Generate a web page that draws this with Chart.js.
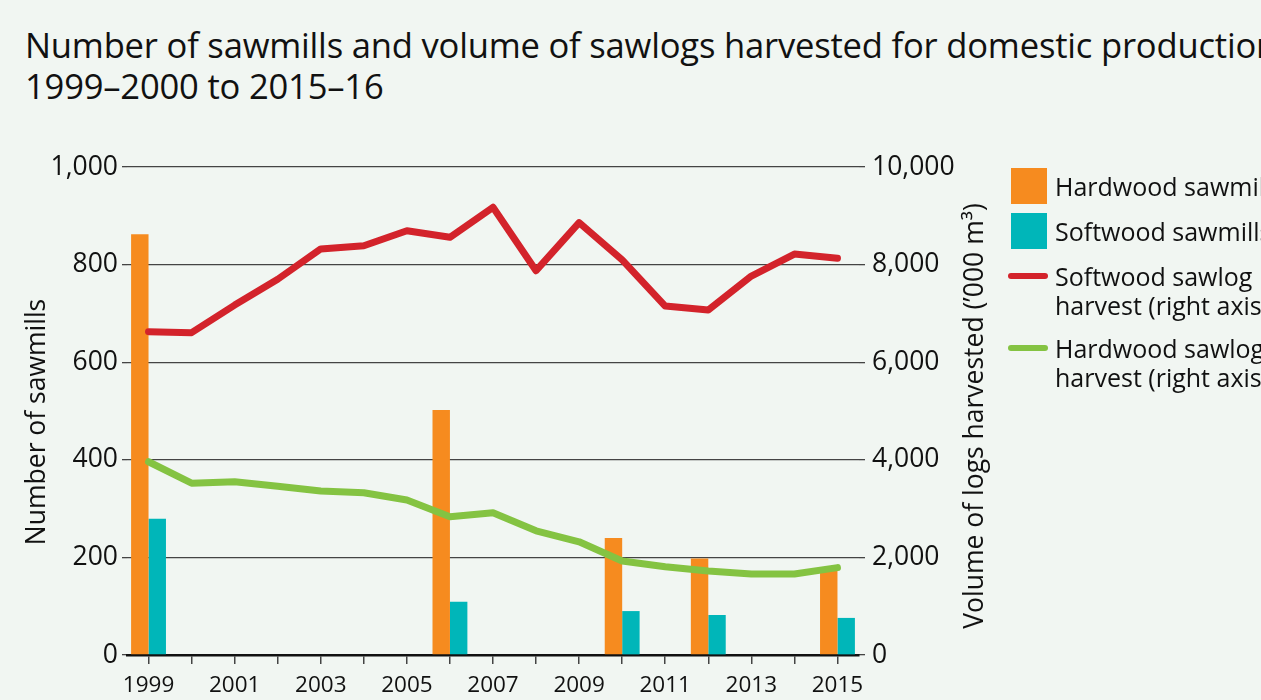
<!DOCTYPE html>
<html>
<head>
<meta charset="utf-8">
<script src="https://cdn.jsdelivr.net/npm/chart.js@4.4.1/dist/chart.umd.min.js"></script>
<style>
  body { margin: 0; background: #f1f6f2; width: 1261px; height: 700px; overflow: hidden; position: relative; font-family: "Open Sans", sans-serif; color: #111; }
  #titre { position: absolute; left: 25px; top: 24px; font-size: 34.6px; line-height: 41px; white-space: nowrap; letter-spacing: -0.2px; }
  #graf { position: absolute; left: 0; top: 0; }
  #leyenda { position: absolute; left: 1008px; top: 0; width: 260px; height: 700px; font-size: 25px; line-height: 29px; white-space: nowrap; }
  .item { position: absolute; left: 0; padding-left: 47px; }
  .caja { position: absolute; left: 3px; width: 36px; height: 36px; }
  .linea { position: absolute; left: 0; top: 11px; width: 40px; height: 6px; border-radius: 3px; }
</style>
</head>
<body>
<div id="titre">Number of sawmills and volume of sawlogs harvested for domestic production<br>1999–2000 to 2015–16</div>
<canvas id="graf" width="1261" height="700"></canvas>
<div id="leyenda"></div>
<script>
const years = ["1999","2000","2001","2002","2003","2004","2005","2006","2007","2008","2009","2010","2011","2012","2013","2014","2015"];
const hardwoodMills = [862, null, null, null, null, null, null, 502, null, null, null, 240, null, 198, null, null, 180];
const softwoodMills = [279, null, null, null, null, null, null, 109, null, null, null, 90, null, 82, null, null, 76];
const softwoodHarvest = [6625, 6605, 7170, 7700, 8320, 8385, 8695, 8560, 9175, 7875, 8860, 8095, 7150, 7070, 7765, 8215, 8130];
const hardwoodHarvest = [3960, 3520, 3550, 3460, 3360, 3325, 3175, 2835, 2915, 2545, 2320, 1925, 1810, 1720, 1660, 1660, 1790];

const naranja = "#f68b1f";
const turquesa = "#00b6b9";
const rojo = "#d3232b";
const verde = "#84c342";
const fuente = "'Open Sans', sans-serif";

// both axis titles read bottom to top, drawn by hand so they can sit where the original has them
const titulosEjes = {
  id: "titulosEjes",
  afterDraw(chart) {
    const c = chart.ctx;
    const pintar = (texto, x, y) => {
      c.save();
      c.translate(x, y);
      c.rotate(-Math.PI / 2);
      c.font = "26.5px " + fuente;
      c.fillStyle = "#111";
      c.textAlign = "center";
      c.textBaseline = "middle";
      c.fillText(texto, 0, 0);
      c.restore();
    };
    pintar("Number of sawmills", chart.scales.y.left + 37, 422);
    pintar("Volume of logs harvested (\u2019000 m\u00B3)", chart.scales.y1.right - 25, 416);
  }
};

var ctx = document.getElementById("graf").getContext("2d");
var chart = new Chart(ctx, {
  type: "bar",
  data: {
    labels: years,
    datasets: [
      {
        label: "Hardwood sawmills",
        backgroundColor: naranja,
        data: hardwoodMills,
        yAxisID: "y",
        order: 2,
      },
      {
        label: "Softwood sawmills",
        backgroundColor: turquesa,
        data: softwoodMills,
        yAxisID: "y",
        order: 2,
      },
      {
        type: "line",
        label: "Softwood sawlog harvest (right axis)",
        borderColor: rojo,
        backgroundColor: rojo,
        borderWidth: 7,
        pointRadius: 0,
        borderCapStyle: "round",
        borderJoinStyle: "round",
        data: softwoodHarvest,
        yAxisID: "y1",
        order: 1,
      },
      {
        type: "line",
        label: "Hardwood sawlog harvest (right axis)",
        borderColor: verde,
        backgroundColor: verde,
        borderWidth: 7,
        pointRadius: 0,
        borderCapStyle: "round",
        borderJoinStyle: "round",
        data: hardwoodHarvest,
        yAxisID: "y1",
        order: 0,
      },
    ],
  },
  options: {
    responsive: false,
    animation: false,
    categoryPercentage: 0.81,
    barPercentage: 1,
    layout: { padding: { top: 167, right: 261, left: 0, bottom: 0 } },
    plugins: {
      legend: { display: false },
      tooltip: { enabled: false },
    },
    scales: {
      x: {
        offset: true,
        afterFit: (s) => { s.height = 45; },
        grid: { offset: false, drawOnChartArea: false, tickLength: 9, color: "#444", lineWidth: 1.5 },
        border: { display: true, color: "#111", width: 2.5 },
        ticks: {
          autoSkip: false,
          maxRotation: 0,
          padding: 8,
          color: "#111",
          font: { family: fuente, size: 22.5 },
          callback: function (v, i) { return i % 2 === 0 ? this.getLabelForValue(v) : ""; },
        },
      },
      y: {
        position: "left",
        min: 0,
        max: 1000,
        afterFit: (s) => { s.width = 127; },
        grid: { color: "#444", lineWidth: 1.3, tickLength: 5 },
        border: { display: false },
        ticks: { stepSize: 200, padding: 4, color: "#111", font: { family: fuente, size: 26.5 } },
      },
      y1: {
        position: "right",
        min: 0,
        max: 10000,
        afterFit: (s) => { s.width = 141; },
        grid: { drawOnChartArea: false, color: "#444", lineWidth: 1.3, tickLength: 6 },
        border: { display: false },
        ticks: { stepSize: 2000, padding: 7, color: "#111", font: { family: fuente, size: 26.5 } },
      },
    },
  },
  plugins: [titulosEjes],
});

// legend built from the datasets; centre lines of each row as in the original
var leyenda = document.getElementById("leyenda");
var filas = [186, 231, 276, 348];
chart.data.datasets.forEach((ds, i) => {
  const d = document.createElement("div");
  d.className = "item";
  if (ds.type === "line") {
    const partes = ds.label.split(" harvest");
    d.innerHTML = '<span class="linea" style="background:' + ds.borderColor + '"></span>' + partes[0] + "<br>harvest" + partes[1];
    d.style.top = (filas[i] - 14.5) + "px";
  } else {
    d.innerHTML = '<span class="caja" style="background:' + ds.backgroundColor + '"></span>' + ds.label;
    d.style.height = "36px";
    d.style.lineHeight = "36px";
    d.style.top = (filas[i] - 18) + "px";
  }
  leyenda.appendChild(d);
});
</script>
</body>
</html>
